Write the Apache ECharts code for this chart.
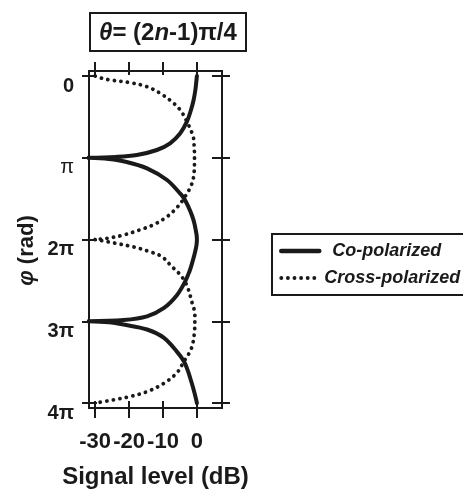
<!DOCTYPE html>
<html>
<head>
<meta charset="utf-8">
<script src="https://cdn.jsdelivr.net/npm/echarts@6/dist/echarts.min.js"></script>
<style>
html,body{margin:0;padding:0;background:#fff;}
#chart{width:463px;height:494px;}
</style>
</head>
<body>
<div id="chart"></div>
<script>
// Tick values and labels
const phiTicks = [0, 1, 2, 3, 4];            // in units of pi
const phiLabels = ['0', 'π', '2π', '3π', '4π'];
const dbTicks = [-30, -20, -10, 0];

// Co-polarized (solid); null marks a break at a cusp
const coPhi = [0, 0.08, 0.171, 0.3, 0.416, 0.559, 0.70, 0.823, 0.905, 0.966, 0.99, 1.0,
  null,
  1.0, 1.015, 1.048, 1.129, 1.272, 1.435, 1.496, 1.60, 1.70, 1.80, 1.905, 1.95, 2.0, 2.05, 2.1, 2.19, 2.3, 2.39, 2.516, 2.68, 2.84, 2.94, 2.985, 3.0,
  null,
  3.0, 3.012, 3.04, 3.10, 3.20, 3.37, 3.49, 3.60, 3.69, 3.80, 3.90, 3.96, 4.0];
const coDb = [0, -0.2, -0.45, -1.0, -1.75, -2.95, -4.9, -7.9, -11.8, -17.7, -24, -32,
  null,
  -32, -26, -21, -14.7, -8.8, -5.0, -3.8, -2.5, -1.5, -0.75, -0.25, -0.07, 0, -0.07, -0.25, -0.75, -1.5, -2.2, -3.5, -5.9, -9.8, -14.7, -21.6, -32,
  null,
  -32, -26, -21.6, -14.7, -9.8, -5.9, -3.8, -2.7, -2.0, -1.2, -0.55, -0.2, 0];

// Cross-polarized (dotted)
const crossPhi = [0, 0.028, 0.049, 0.082, 0.131, 0.212, 0.314, 0.416, 0.559, 0.74, 0.87, 1.0, 1.17, 1.33, 1.496, 1.61, 1.72, 1.82, 1.88, 1.945, 1.985, 2.0,
  null,
  2.0, 2.04, 2.09, 2.15, 2.21, 2.33, 2.43, 2.516, 2.60, 2.76, 2.92, 3.0, 3.12, 3.33, 3.49, 3.63, 3.76, 3.86, 3.92, 3.96, 4.0];
const crossDb = [-30, -28, -25.4, -19.7, -14.7, -10.8, -7.4, -4.9, -2.95, -1.1, -0.8, -0.7, -0.8, -1.6, -3.8, -5.9, -8.8, -12.8, -16.7, -21.6, -26.5, -30,
  null,
  -30, -24.6, -18.7, -13.8, -10.3, -7.4, -4.9, -3.5, -2.6, -1.5, -0.6, -0.6, -0.7, -1.6, -3.8, -5.9, -9.8, -14.7, -19.7, -24.6, -30];

function zip(xs, ys) {
  return xs.map((p, i) => (p === null ? '-' : [ys[i], p]));
}

const FF = '"Liberation Sans", Arial, sans-serif';
const INK = '#1a1a1a';
const X_MIN = -31.8, X_MAX = 7.4;
const Y_MIN = -0.061, Y_MAX = 4.06;

function xAx(position, inside, len, showLabel, extra) {
  return Object.assign({
    type: 'value', position: position, min: X_MIN, max: X_MAX,
    axisLine: { show: false, onZero: false },
    splitLine: { show: false },
    axisTick: { show: true, inside: inside, length: len, customValues: dbTicks,
      lineStyle: { color: INK, width: 2 } },
    axisLabel: { show: showLabel, customValues: dbTicks }
  }, extra || {});
}
function yAx(position, inside, len, showLabel, extra) {
  return Object.assign({
    type: 'value', position: position, min: Y_MIN, max: Y_MAX, inverse: true,
    axisLine: { show: false, onZero: false },
    splitLine: { show: false },
    axisTick: { show: true, inside: inside, length: len, customValues: phiTicks,
      lineStyle: { color: INK, width: 2 } },
    axisLabel: { show: showLabel, customValues: phiTicks }
  }, extra || {});
}

const chart = echarts.init(document.getElementById('chart'), null, { renderer: 'canvas' });

const option = {
  backgroundColor: '#fff',
  animation: false,
  title: {
    text: '{i|θ}= (2{i|n}-1)π/4',
    left: 90, top: 13,
    padding: [7, 9, 5, 9],
    borderColor: INK, borderWidth: 2,
    textStyle: {
      fontFamily: FF, fontSize: 24, fontWeight: 'bold', color: INK, lineHeight: 26,
      rich: { i: { fontFamily: FF, fontSize: 24, fontWeight: 'bold', fontStyle: 'italic', color: INK, lineHeight: 26 } }
    }
  },
  legend: {
    orient: 'vertical', left: 272, top: 234,
    padding: [8, 40, 8, 7], itemGap: 9, itemWidth: 38, itemHeight: 14,
    borderColor: INK, borderWidth: 2, backgroundColor: '#fff',
    itemStyle: { opacity: 0, color: 'transparent', borderWidth: 0 },
    textStyle: { fontFamily: FF, fontSize: 18, fontWeight: 'bold', fontStyle: 'italic', color: INK },
    data: [
      { name: 'Co-polarized', textStyle: { padding: [0, 0, 0, 8] }, lineStyle: { width: 4.5 },
        itemStyle: { opacity: 0, color: 'transparent', borderWidth: 0 } },
      { name: 'Cross-polarized', lineStyle: { width: 3.8 },
        itemStyle: { opacity: 0, color: 'transparent', borderWidth: 0 } }
    ]
  },
  grid: { left: 89, top: 71, width: 133, height: 337, show: true, borderColor: INK, borderWidth: 2, backgroundColor: 'transparent' },
  xAxis: [
    xAx('bottom', false, 10, true, {
      name: 'Signal level (dB)', nameLocation: 'middle', nameGap: 57,
      nameTextStyle: { fontFamily: FF, fontSize: 24, fontWeight: 'bold', color: INK },
      axisLabel: { show: true, customValues: dbTicks, margin: 23, fontFamily: FF, fontSize: 22, fontWeight: 'bold', color: INK,
        formatter: v => String(v) }
    }),
    xAx('bottom', true, 7, false),
    xAx('top', false, 9, false),
    xAx('top', true, 4, false)
  ],
  yAxis: [
    yAx('left', false, 7, true, {
      name: '{i|φ} (rad)', nameLocation: 'middle', nameGap: 51,
      nameTextStyle: { fontFamily: FF, fontSize: 22, fontWeight: 'bold', color: INK, padding: [0, 22, 0, 0],
        rich: { i: { fontFamily: FF, fontSize: 22, fontWeight: 'bold', fontStyle: 'italic', color: INK } } },
      axisLabel: { show: true, customValues: phiTicks, margin: 15, fontFamily: FF, fontSize: 20, fontWeight: 'bold', color: INK,
        verticalAlign: 'top',
        formatter: v => { const i = phiTicks.indexOf(v); return i === 1 ? '{p|' + phiLabels[i] + '}' : (i >= 0 ? phiLabels[i] : ''); },
        rich: { p: { fontFamily: FF, fontSize: 20, fontWeight: 'normal', color: INK } } }
    }),
    yAx('left', true, 8, false),
    yAx('right', false, 8, false),
    yAx('right', true, 10, false)
  ],
  series: [
    {
      name: 'Co-polarized', type: 'line', xAxisIndex: 0, yAxisIndex: 0,
      data: zip(coPhi, coDb), showSymbol: false, symbol: 'none', smooth: 0.35, connectNulls: false,
      lineStyle: { color: INK, width: 4, cap: 'round', join: 'miter' },
      itemStyle: { color: INK }, clip: true, z: 3
    },
    {
      name: 'Cross-polarized', type: 'line', xAxisIndex: 0, yAxisIndex: 0,
      data: zip(crossPhi, crossDb), showSymbol: false, symbol: 'none', smooth: 0.35, connectNulls: false,
      lineStyle: { color: INK, width: 3.8, type: [0.1, 6.5], cap: 'round' },
      itemStyle: { color: INK }, clip: true, z: 2
    }
  ]
};
chart.setOption(option);
</script>
</body>
</html>
